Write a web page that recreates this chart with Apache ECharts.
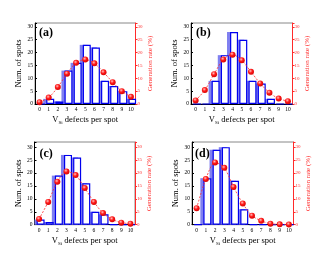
<!DOCTYPE html>
<html><head><meta charset="utf-8">
<script src="https://cdn.jsdelivr.net/npm/echarts@6/dist/echarts.min.js"></script>
<style>html,body{margin:0;padding:0;background:#fff}#c{width:330px;height:255px}</style>
</head><body><div id="c"></div>
<script>
const categories = ['0','1','2','3','4','5','6','7','8','9','10'];
const barsA = [0,2,1,13,16,23,22,9,7,5,2];
const rateA = [0.7,2.5,6.6,11.8,16,17.3,15.8,12.3,8.5,5,2.8];
const barsB = [0,0,9,19,28,25,9,8,2,0,0];
const rateB = [1.4,5.4,11.6,17.3,19.2,17,12.5,8,4.4,2.1,1.1];
const barsC = [2,1,19,27,26,16,5,4,0,0,0];
const rateC = [2.2,8.8,16.6,20.6,19.2,14.2,8.8,4.5,2.1,0.8,0.4];
const barsD = [0,18,29,30,17,6,0,0,0,0,0];
const rateD = [6.4,17.7,24.1,22,14.6,8.2,3.5,1.5,0.4,0.15,0.1];
const panelLabels = ['(a)','(b)','(c)','(d)'];
const leftTitle = 'Num. of spots';
const rightTitle = 'Generation rate (%)';

const FONT = '"Liberation Serif","Times New Roman",serif';
const panels = [
  {bars: barsA, rate: rateA, left: 35, top: 23, width: 100.5, height: 81, max: 31.5, lx: 39, ly: 27},
  {bars: barsB, rate: rateB, left: 191, top: 23, width: 101.5, height: 81, max: 31.5, lx: 196, ly: 27},
  {bars: barsC, rate: rateC, left: 34.5, top: 142, width: 100.5, height: 82.7, max: 32, lx: 39.5, ly: 148},
  {bars: barsD, rate: rateD, left: 192, top: 142, width: 101.5, height: 82.7, max: 32, lx: 195, ly: 148}
];
const RED = '#ff2a2a';
const grid = [], xAxis = [], yAxis = [], series = [], graphic = [];
panels.forEach((p, i) => {
  grid.push({left: p.left, top: p.top, width: p.width, height: p.height, show: true, borderColor: '#888', borderWidth: 1, backgroundColor: 'transparent'});
  xAxis.push({
    type: 'category', gridIndex: i, data: categories,
    axisLine: {lineStyle: {color: '#000', width: 1}},
    axisTick: {alignWithLabel: true, inside: true, length: 2, lineStyle: {color: '#000'}},
    axisLabel: {fontFamily: FONT, fontSize: 5.5, color: '#000', margin: 2.5, interval: 0},
    name: '{v|V}{s|Si}{v| defects per spot}', nameLocation: 'middle', nameGap: 11,
    nameTextStyle: {rich: {v: {fontFamily: FONT, fontSize: 8.5, color: '#000'}, s: {fontFamily: FONT, fontSize: 5, color: '#000', verticalAlign: 'bottom', padding: [5,0,0,0]}}}
  });
  yAxis.push({
    type: 'value', gridIndex: i, min: 0, max: p.max, interval: 5, position: 'left',
    splitLine: {show: false},
    axisLine: {show: true, lineStyle: {color: '#000', width: 1}},
    axisTick: {show: true, inside: true, length: 2, lineStyle: {color: '#000'}},
    axisLabel: {fontFamily: FONT, fontSize: 5.5, color: '#000', margin: 2, formatter: v => (v % 5 === 0 ? v : '')},
    name: leftTitle, nameLocation: 'middle', nameRotate: 90, nameGap: 9,
    nameTextStyle: {fontFamily: FONT, fontSize: 8.5, color: '#000'}
  });
  yAxis.push({
    type: 'value', gridIndex: i, min: 0, max: p.max, interval: 5, position: 'right',
    splitLine: {show: false},
    axisLine: {show: true, lineStyle: {color: RED, width: 1}},
    axisTick: {show: true, inside: false, length: 2, lineStyle: {color: RED}},
    axisLabel: {fontFamily: FONT, fontSize: 5, color: RED, margin: 2, formatter: v => (v % 5 === 0 ? v : '')},
    name: rightTitle, nameLocation: 'middle', nameRotate: 90, nameGap: 11,
    nameTextStyle: {fontFamily: FONT, fontSize: 7, color: RED}
  });
  series.push({
    type: 'bar', xAxisIndex: i, yAxisIndex: 2 * i, data: p.bars, barWidth: 8, barGap: '-62%',
    itemStyle: {color: '#8080f0'}, z: 2, silent: true, animation: false
  });
  series.push({
    type: 'bar', xAxisIndex: i, yAxisIndex: 2 * i, data: p.bars, barWidth: 8,
    itemStyle: {color: '#fff', borderColor: '#0000ee', borderWidth: 1.2}, z: 3, silent: true, animation: false
  });
  series.push({
    type: 'line', xAxisIndex: i, yAxisIndex: 2 * i + 1, data: p.rate, smooth: 0.3,
    lineStyle: {color: RED, width: 0.8, type: [2, 1.5]},
    symbol: 'circle', symbolSize: 6,
    itemStyle: {color: {type: 'radial', x: 0.4, y: 0.35, r: 0.7, colorStops: [{offset: 0, color: '#ffc0c0'}, {offset: 0.45, color: '#ff1a1a'}, {offset: 1, color: '#d00000'}]}, borderWidth: 0},
    z: 5, silent: true, animation: false
  });
  graphic.push({type: 'text', left: p.lx, top: p.ly, z: 10, style: {text: panelLabels[i], font: 'bold 12px ' + FONT, fill: '#000'}});
});
const chart = echarts.init(document.getElementById('c'), null, {renderer: 'canvas'});
chart.setOption({animation: false, grid, xAxis, yAxis, series, graphic});
</script></body></html>
